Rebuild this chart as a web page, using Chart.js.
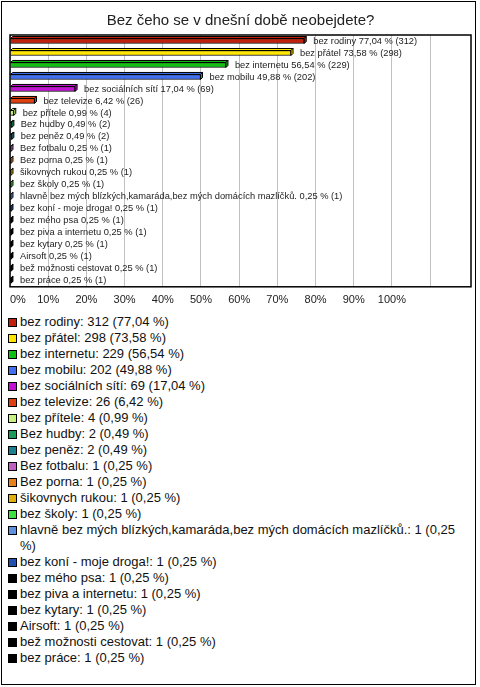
<!DOCTYPE html>
<html>
<head>
<meta charset="utf-8">
<script src="https://cdn.jsdelivr.net/npm/chart.js@4"></script>
<style>
  body { margin: 0; background: #fff; font-family: "Liberation Sans", Arial, sans-serif; }
  #frame { position: absolute; left: 1px; top: 1px; width: 475px; height: 684px; border: 1px solid #000; box-sizing: border-box; }
  #chart { position: absolute; left: 0; top: 0; }
  #legend { position: absolute; left: 8px; top: 314px; width: 464px; font-size: 13px; line-height: 16px; color: #111; }
  .item { position: relative; padding-left: 12px; }
  .box { position: absolute; left: 0; top: 4px; width: 7px; height: 7px; border: 1px solid #000; }
</style>
</head>
<body>
<div id="frame"></div>
<canvas id="chart" width="480" height="314"></canvas>
<div id="legend"></div>
<script>
const title = 'Bez čeho se v dnešní době neobejdete?';

const categories = [
  'bez rodiny', 'bez přátel', 'bez internetu', 'bez mobilu', 'bez sociálních sítí',
  'bez televize', 'bez přítele', 'Bez hudby', 'bez peněz', 'Bez fotbalu', 'Bez porna',
  'šikovnych rukou', 'bez školy', 'hlavně bez mých blízkých,kamaráda,bez mých domácích mazlíčků.',
  'bez koní - moje droga!', 'bez mého psa', 'bez piva a internetu', 'bez kytary', 'Airsoft',
  'bež možnosti cestovat', 'bez práce'
];
const counts = [312, 298, 229, 202, 69, 26, 4, 2, 2, 1, 1, 1, 1, 1, 1, 1, 1, 1, 1, 1, 1];
const percents = [77.04, 73.58, 56.54, 49.88, 17.04, 6.42, 0.99, 0.49, 0.49, 0.25, 0.25,
  0.25, 0.25, 0.25, 0.25, 0.25, 0.25, 0.25, 0.25, 0.25, 0.25];
const colors = [
  '#c0200c', '#ffe600', '#12c012', '#4070f0', '#c010d0', '#e04010', '#c8f080',
  '#1a9a5a', '#1a8090', '#c060c0', '#e88020', '#e0b010', '#40e040', '#6090e0',
  '#2050b0', '#000000', '#000000', '#000000', '#000000', '#000000', '#000000'
];
const xTicks = [0, 10, 20, 30, 40, 50, 60, 70, 80, 90, 100, 110];

const fmt = v => v.toFixed(2).replace('.', ',');

// 3D look: top and right faces on each bar
const depthPlugin = {
  id: 'depth',
  afterDatasetsDraw(chart) {
    const ctx = chart.ctx;
    const d = 2;
    chart.getDatasetMeta(0).data.forEach((bar, i) => {
      const left = bar.base, right = bar.x;
      const top = bar.y - bar.height / 2, bottom = bar.y + bar.height / 2;
      ctx.save();
      ctx.fillStyle = colors[i];
      ctx.strokeStyle = '#000';
      ctx.lineWidth = 1;
      ctx.beginPath();
      ctx.moveTo(left, top);
      ctx.lineTo(left + d, top - d);
      ctx.lineTo(right + d, top - d);
      ctx.lineTo(right, top);
      ctx.closePath();
      ctx.fill();
      ctx.stroke();
      ctx.beginPath();
      ctx.moveTo(right, top);
      ctx.lineTo(right + d, top - d);
      ctx.lineTo(right + d, bottom - d);
      ctx.lineTo(right, bottom);
      ctx.closePath();
      ctx.fill();
      ctx.stroke();
      ctx.restore();
    });
  }
};

// text after every bar and the black frame round the plot
const labelPlugin = {
  id: 'barLabels',
  afterDraw(chart) {
    const ctx = chart.ctx;
    const a = chart.chartArea;
    ctx.save();
    ctx.font = '9.3px "Liberation Sans", Arial, sans-serif';
    ctx.fillStyle = '#222';
    ctx.textBaseline = 'middle';
    chart.getDatasetMeta(0).data.forEach((bar, i) => {
      ctx.fillText(categories[i] + ' ' + fmt(percents[i]) + ' % (' + counts[i] + ')', bar.x + 9, bar.y);
    });
    ctx.strokeStyle = '#000';
    ctx.lineWidth = 1.5;
    ctx.strokeRect(a.left, a.top, a.right - a.left, a.bottom - a.top);
    ctx.restore();
  }
};

new Chart(document.getElementById('chart'), {
  type: 'bar',
  data: {
    labels: categories,
    datasets: [{
      data: percents,
      backgroundColor: colors,
      borderColor: '#000',
      borderWidth: 1,
      barThickness: 5
    }]
  },
  options: {
    indexAxis: 'y',
    responsive: false,
    animation: false,
    layout: { padding: { left: 10, right: 9, top: 0, bottom: 0 } },
    plugins: {
      title: {
        display: true,
        text: title,
        color: '#222',
        font: { size: 15, weight: 'normal', family: '"Liberation Sans", Arial, sans-serif' },
        padding: { top: 12, bottom: 5 }
      },
      legend: { display: false },
      tooltip: { enabled: false }
    },
    scales: {
      x: {
        min: 0,
        max: 120.7,
        afterBuildTicks: scale => { scale.ticks = xTicks.map(v => ({ value: v })); },
        grid: { color: '#c0c0c0', drawTicks: false },
        border: { display: false },
        ticks: {
          align: 'inner',
          padding: 7,
          color: '#222',
          font: { size: 11, family: '"Liberation Sans", Arial, sans-serif' },
          callback: v => (v <= 100 ? v + '%' : '')
        }
      },
      y: { display: false }
    }
  },
  plugins: [depthPlugin, labelPlugin]
});

// legend list under the chart
const legend = document.getElementById('legend');
categories.forEach((c, i) => {
  const row = document.createElement('div');
  row.className = 'item';
  const box = document.createElement('span');
  box.className = 'box';
  box.style.background = colors[i];
  row.appendChild(box);
  row.appendChild(document.createTextNode(c + ': ' + counts[i] + ' (' + fmt(percents[i]) + ' %)'));
  legend.appendChild(row);
});
</script>
</body>
</html>
